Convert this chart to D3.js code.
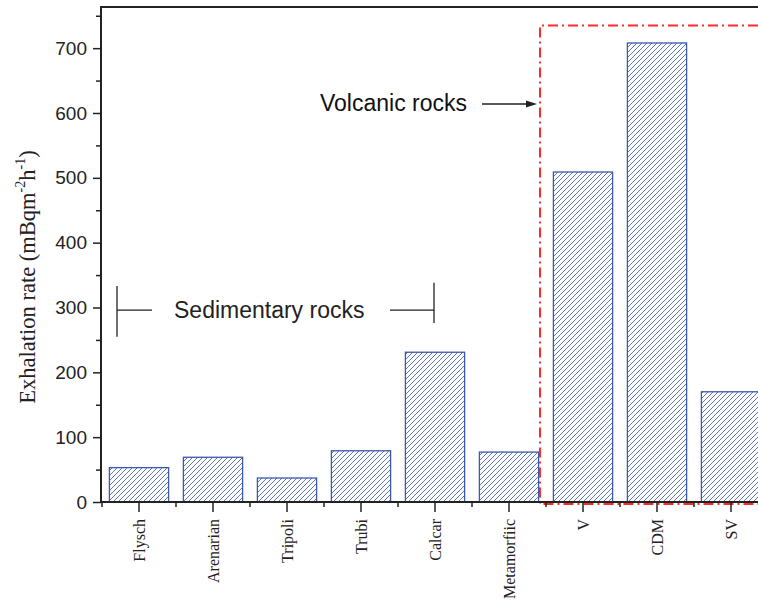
<!DOCTYPE html>
<html>
<head>
<meta charset="utf-8">
<script src="https://cdn.jsdelivr.net/npm/d3@7"></script>
<style>
  body { margin: 0; background: #fff; }
  svg { display: block; }
</style>
</head>
<body>
<div id="chart"></div>
<script>
// rock types and their exhalation rates (mBq m-2 h-1)
var categories = ["Flysch", "Arenarian", "Tripoli", "Trubi", "Calcar", "Metamorfiic", "V", "CDM", "SV"];
var rates = [53, 69, 37, 79, 231, 77, 509, 708, 170];
var yTicks = [0, 100, 200, 300, 400, 500, 600, 700];
var yMinor = [50, 150, 250, 350, 450, 550, 650, 750];

var W = 758, H = 603;
var blue = "#3c58ad", red = "#ff2a2a";

var svg = d3.select("#chart").append("svg")
  .attr("width", W).attr("height", H);

// hatch for the bars
var defs = svg.append("defs");
defs.append("pattern")
  .attr("id", "hatch")
  .attr("patternUnits", "userSpaceOnUse")
  .attr("width", 5).attr("height", 5)
  .append("path")
  .attr("d", "M-1,1 l2,-2 M0,5 l5,-5 M4,6 l2,-2")
  .attr("stroke", "#4d68bb").attr("stroke-width", 0.9);

// the plot runs past the right edge of the window, as in the original
var x = d3.scaleBand().domain(categories).range([102, 768])
  .paddingInner(0.2).paddingOuter(0.1);
var y = d3.scaleLinear().domain([0, 763.5]).range([502, 7]);

var g = svg.append("g");

// bars
g.selectAll("rect.bar")
  .data(categories)
  .enter().append("rect")
  .attr("class", "bar")
  .attr("x", function(d) { return x(d); })
  .attr("width", x.bandwidth())
  .attr("y", function(d, i) { return y(rates[i]); })
  .attr("height", function(d, i) { return y(0) - y(rates[i]); })
  .attr("fill", "url(#hatch)")
  .attr("stroke", blue).attr("stroke-width", 1.3);

// volcanic box
var vx = x("V") - x.step() * 0.1 - 6;
svg.append("path")
  .attr("d", "M" + W + "," + y(735) + " H" + vx + " V" + (y(0) + 2) + " H" + W)
  .attr("fill", "none")
  .attr("stroke", red).attr("stroke-width", 2)
  .attr("stroke-dasharray", "10,4,2,4");

// y axis
var yAxis = d3.axisLeft(y).tickValues(yTicks).tickSize(8).tickPadding(6).tickFormat(d3.format("d"));
var ya = svg.append("g").attr("transform", "translate(101,0)").call(yAxis);
ya.select(".domain").remove();
ya.selectAll("line").attr("stroke", "#222").attr("stroke-width", 1.5);
ya.selectAll("text").attr("font-family", "Liberation Sans, Arial, sans-serif")
  .attr("font-size", 19).attr("fill", "#222");
svg.append("g").attr("transform", "translate(101,0)")
  .call(d3.axisLeft(y).tickValues(yMinor).tickSize(5).tickFormat(""))
  .call(function(s) {
    s.select(".domain").remove();
    s.selectAll("line").attr("stroke", "#222").attr("stroke-width", 1.5);
  });

// x axis
var xa = svg.append("g").attr("transform", "translate(0,502)")
  .call(d3.axisBottom(x).tickSize(10).tickPadding(8));
xa.select(".domain").remove();
xa.selectAll("line").attr("stroke", "#222").attr("stroke-width", 1.5);
xa.selectAll("text")
  .attr("font-family", "Liberation Serif, Times New Roman, serif")
  .attr("font-size", 16).attr("fill", "#222")
  .attr("text-anchor", "end")
  .attr("dy", null)
  .attr("transform", "translate(6,17) rotate(-90)")
  .attr("x", 0).attr("y", 0);
// minor ticks between categories
svg.selectAll("line.xminor")
  .data(categories)
  .enter().append("line")
  .attr("class", "xminor")
  .attr("x1", function(d) { return x(d) - x.step() * 0.1; })
  .attr("x2", function(d) { return x(d) - x.step() * 0.1; })
  .attr("y1", 502).attr("y2", 507)
  .attr("stroke", "#222").attr("stroke-width", 1.5);

// axis frame lines
svg.append("line").attr("x1", 101).attr("x2", 101).attr("y1", 6).attr("y2", 503)
  .attr("stroke", "#222").attr("stroke-width", 2);
svg.append("line").attr("x1", 100).attr("x2", W).attr("y1", 502).attr("y2", 502)
  .attr("stroke", "#222").attr("stroke-width", 2);
svg.append("line").attr("x1", 100).attr("x2", W).attr("y1", 7).attr("y2", 7)
  .attr("stroke", "#222").attr("stroke-width", 2);

// y label
var yl = svg.append("text")
  .attr("transform", "translate(35," + 277 + ") rotate(-90)")
  .attr("text-anchor", "middle")
  .attr("font-family", "Liberation Serif, Times New Roman, serif")
  .attr("font-size", 22.5).attr("fill", "#222");
yl.append("tspan").text("Exhalation rate (mBqm");
yl.append("tspan").attr("font-size", 14).attr("dy", -10).text("-2");
yl.append("tspan").attr("dy", 10).text("h");
yl.append("tspan").attr("font-size", 14).attr("dy", -10).text("-1");
yl.append("tspan").attr("dy", 10).text(")");

// sedimentary annotation
var sedY = y(296);
var ann = svg.append("g").attr("stroke", "#222").attr("stroke-width", 1.3);
ann.append("line").attr("x1", 117).attr("x2", 117).attr("y1", y(333)).attr("y2", y(255));
ann.append("line").attr("x1", 117).attr("x2", 152).attr("y1", sedY).attr("y2", sedY);
ann.append("line").attr("x1", 390).attr("x2", 434).attr("y1", sedY).attr("y2", sedY);
ann.append("line").attr("x1", 434).attr("x2", 434).attr("y1", y(338)).attr("y2", y(276));
svg.append("text").attr("x", 174).attr("y", sedY + 8)
  .attr("font-family", "Liberation Sans, Arial, sans-serif")
  .attr("font-size", 23).attr("fill", "#222")
  .text("Sedimentary rocks");

// volcanic annotation
svg.append("text").attr("x", 320).attr("y", 111)
  .attr("font-family", "Liberation Sans, Arial, sans-serif")
  .attr("font-size", 23).attr("fill", "#111")
  .text("Volcanic rocks");
svg.append("line").attr("x1", 482).attr("x2", 528).attr("y1", 104).attr("y2", 104)
  .attr("stroke", "#222").attr("stroke-width", 1.3);
svg.append("path").attr("d", "M537,104 L526,100.5 L526,107.5 Z").attr("fill", "#222");
</script>
</body>
</html>
